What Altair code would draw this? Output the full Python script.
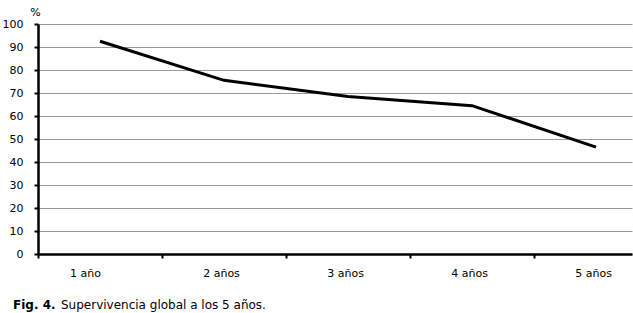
import json
import altair as alt
import pandas as pd

# ---- data ----
categories = ["1 año", "2 años", "3 años", "4 años", "5 años"]
positions = [1, 2, 3, 4, 5]
survival = [92.5, 75.5, 68.5, 64.5, 46.5]
y_ticks = [0, 10, 20, 30, 40, 50, 60, 70, 80, 90, 100]
caption_bold = "Fig. 4."
caption_rest = "Supervivencia global a los 5 años."

FONT = "DejaVu Sans"

df = pd.DataFrame({"pos": positions, "cat": categories, "val": survival})
label_expr = json.dumps([""] + categories) + "[datum.value]"

x_axis = alt.Axis(
    values=positions,
    labelExpr=label_expr,
    tickOffset=-62,
    labelOffset={"condition": {"test": "datum.value == 1", "value": 47}, "value": 59},
    tickSize=4,
    tickWidth=2,
    tickColor="black",
    domainColor="black",
    domainWidth=2.5,
    grid=False,
    labelFont=FONT,
    labelFontSize=11,
    labelColor="black",
    labelPadding=9,
    title=None,
)

y_axis = alt.Axis(
    values=y_ticks,
    grid=True,
    gridColor="#9a9a9a",
    gridWidth=1,
    tickSize=4,
    tickWidth=2,
    tickColor="black",
    domainColor="black",
    domainWidth=2.5,
    labelFont=FONT,
    labelFontSize=11,
    labelColor="black",
    labelPadding=11,
    title="%",
    titleAngle=0,
    titleFont=FONT,
    titleFontSize=11,
    titleFontWeight="normal",
    titleColor="black",
    titleAlign="center",
    titleBaseline="middle",
    titleX=-3,
    titleY=-12,
)

line = alt.Chart(df).mark_line(color="black", strokeWidth=3).encode(
    x=alt.X("pos:Q", scale=alt.Scale(domain=[0.5, 5.29], nice=False, zero=False), axis=x_axis),
    y=alt.Y("val:Q", scale=alt.Scale(domain=[0, 100], nice=False), axis=y_axis),
)

cap_df = pd.DataFrame({"bold": [caption_bold], "rest": [caption_rest]})
cap1 = alt.Chart(cap_df).mark_text(
    font=FONT, fontSize=12, fontWeight="bold", align="left", baseline="middle", color="black"
).encode(text="bold:N", x=alt.value(-25), y=alt.value(281))
cap2 = alt.Chart(cap_df).mark_text(
    font=FONT, fontSize=12, align="left", baseline="middle", color="black"
).encode(text="rest:N", x=alt.value(23), y=alt.value(281))

chart = alt.layer(line, cap1, cap2).properties(
    width=594,
    height=230,
    autosize=alt.AutoSizeParams(type="none"),
    padding={"left": 38, "top": 24, "right": 1, "bottom": 59},
    background="white",
).configure_view(stroke=None)

chart.save("out.html", embed_options={"renderer": "svg", "actions": False})
